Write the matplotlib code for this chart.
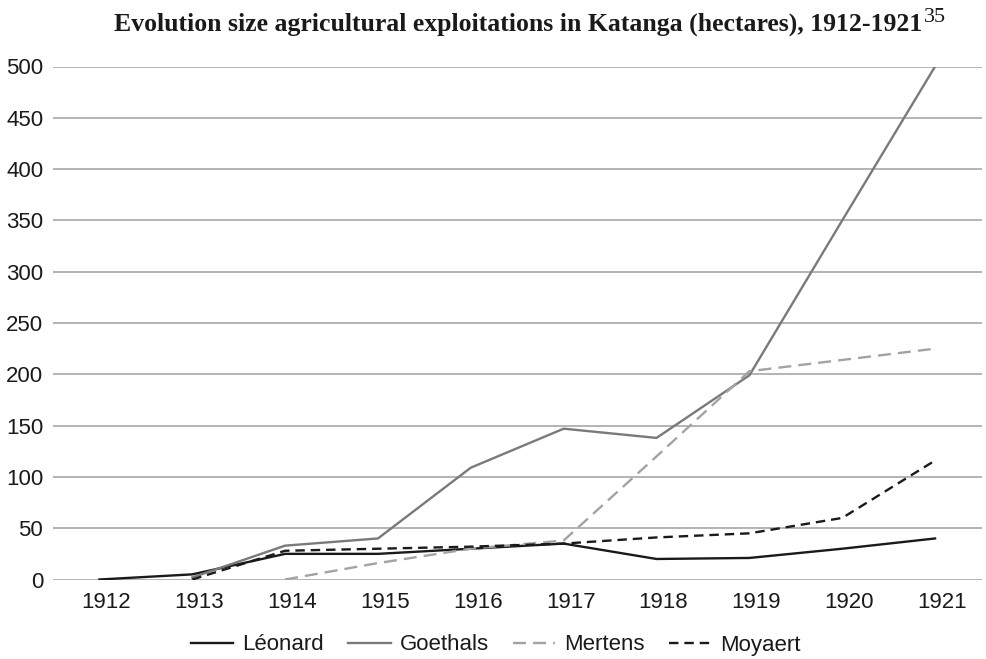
import matplotlib
matplotlib.use("Agg")
import matplotlib.pyplot as plt
import matplotlib.transforms as mtransforms
import numpy as np

years = ["1912", "1913", "1914", "1915", "1916", "1917", "1918", "1919", "1920", "1921"]
leonard = [0, 5, 25, 25, 30, 35, 20, 21, 30, 40]
goethals = [np.nan, 2, 33, 40, 109, 147, 138, 199, 350, 500]
mertens = [np.nan, np.nan, 0, 16, 30, 38, 120, 203, 214, 225]
moyaert = [np.nan, 0, 28, 30, 32, 35, 41, 45, 60, 116]
yticks = [0, 50, 100, 150, 200, 250, 300, 350, 400, 450, 500]

plt.rcParams['font.family'] = ['Liberation Sans', 'DejaVu Sans']

fig = plt.figure(figsize=(9.86, 6.59), dpi=100)
ax = fig.add_axes([53/986, 1 - 579.5/659, (981.5-53)/986, (579.5-66.5)/659])

x = np.arange(len(years))
lw = 1.7
ax.plot(x, leonard, color='#1a1a1a', lw=lw, label='Léonard')
ax.plot(x, goethals, color='#7a7a7a', lw=lw, label='Goethals')
ax.plot(x, mertens, color='#a3a3a3', lw=lw, ls=(0, (5.5, 3)), label='Mertens')
ax.plot(x, moyaert, color='#1a1a1a', lw=lw, ls=(0, (4, 2.5)), label='Moyaert')

ax.set_xlim(-0.5, len(years) - 0.5)
ax.set_ylim(0, 500)
ax.set_yticks(yticks)
ax.set_yticklabels([str(v) for v in yticks])
ax.set_xticks(x)
ax.set_xticklabels(years)
ax.tick_params(axis='both', length=0, labelsize=16, colors='#1a1a1a')
ax.tick_params(axis='y', pad=7)
ax.tick_params(axis='x', pad=9)
offset = mtransforms.ScaledTranslation(7/100, 0, fig.dpi_scale_trans)
for lbl in ax.get_xticklabels():
    lbl.set_transform(lbl.get_transform() + offset)

ax.grid(axis='y', color='#b3b3b3', lw=1.4)
ax.set_axisbelow(True)
for s in ax.spines.values():
    s.set_visible(False)

title = fig.text(518/986, 1 - 31/659,
                 "Evolution size agricultural exploitations in Katanga (hectares), 1912-1921",
                 ha='center', va='baseline', fontsize=18.5, fontweight='bold',
                 family='Liberation Serif', color='#1a1a1a')
fig.text(0, 0, "35", transform=mtransforms.offset_copy(fig.transFigure, fig=fig, x=0, y=0),
         visible=False)
ax.annotate("35", xy=(1, 0.62), xycoords=title, xytext=(1, 0), textcoords='offset points',
            ha='left', va='baseline', fontsize=16, family='Liberation Serif',
            color='#1a1a1a', annotation_clip=False)

fig.legend(loc='center', bbox_to_anchor=(496/986, 1 - 645/659), ncol=4, frameon=False,
           fontsize=16, handlelength=1.9, handletextpad=0.4, columnspacing=1.1,
           labelcolor='#1a1a1a', borderpad=0, borderaxespad=0)

fig.savefig('out.png', dpi=100, facecolor='white')
